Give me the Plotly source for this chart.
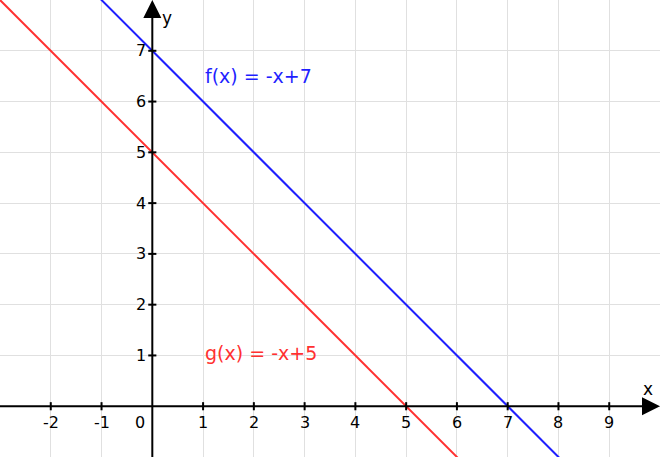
import plotly.graph_objects as go

# Data
x_range = [-3, 10]
y_range = [-1, 8]
x_ticks = [-2, -1, 1, 2, 3, 4, 5, 6, 7, 8, 9]
y_ticks = [1, 2, 3, 4, 5, 6, 7]
f_x = [-3, 10]
f_y = [10, -3]   # f(x) = -x + 7
g_x = [-3, 10]
g_y = [8, -5]    # g(x) = -x + 5
f_label = "f(x) = -x+7"
g_label = "g(x) = -x+5"
f_label_pos = (1.0, 6.5)
g_label_pos = (1.0, 1.05)

BLUE = "#1f1fff"
RED = "#ff3030"
FONT = "DejaVu Sans"

fig = go.Figure()
fig.add_trace(go.Scatter(x=f_x, y=f_y, mode="lines", line=dict(color=BLUE, width=2), hoverinfo="skip"))
fig.add_trace(go.Scatter(x=g_x, y=g_y, mode="lines", line=dict(color=RED, width=2), hoverinfo="skip"))

shapes = []
# tick marks
for t in x_ticks:
    shapes.append(dict(type="line", xref="x", yref="y", x0=t, x1=t, y0=-0.08, y1=0.08,
                       line=dict(color="black", width=2)))
for t in y_ticks:
    shapes.append(dict(type="line", xref="x", yref="y", y0=t, y1=t, x0=-0.08, x1=0.08,
                       line=dict(color="black", width=2)))
# axes
shapes.append(dict(type="line", xref="x", yref="y", x0=x_range[0], x1=x_range[1] - 0.2, y0=0, y1=0,
                   line=dict(color="black", width=2), layer="above"))
shapes.append(dict(type="line", xref="x", yref="y", x0=0, x1=0, y0=y_range[0], y1=y_range[1] - 0.2,
                   line=dict(color="black", width=2), layer="above"))

annotations = []
for t in x_ticks:
    annotations.append(dict(x=t, y=0, xref="x", yref="y", text=str(t), showarrow=False,
                            yshift=-16, font=dict(family=FONT, size=16, color="black")))
annotations.append(dict(x=0, y=0, xref="x", yref="y", text="0", showarrow=False,
                        xshift=-12, yshift=-16, font=dict(family=FONT, size=16, color="black")))
for t in y_ticks:
    annotations.append(dict(x=0, y=t, xref="x", yref="y", text=str(t), showarrow=False,
                            xanchor="right", xshift=-4, font=dict(family=FONT, size=16, color="black")))
# arrowheads
annotations.append(dict(x=x_range[1], y=0, ax=x_range[1] - 0.3, ay=0, xref="x", yref="y",
                        axref="x", ayref="y", text="", showarrow=True, arrowhead=2, arrowsize=1.8,
                        arrowwidth=2, arrowcolor="black"))
annotations.append(dict(x=0, y=y_range[1], ax=0, ay=y_range[1] - 0.3, xref="x", yref="y",
                        axref="x", ayref="y", text="", showarrow=True, arrowhead=2, arrowsize=1.8,
                        arrowwidth=2, arrowcolor="black"))
# axis titles
annotations.append(dict(x=x_range[1], y=0, xref="x", yref="y", text="x", showarrow=False,
                        xanchor="right", xshift=-5, yshift=17, font=dict(family=FONT, size=17, color="black")))
annotations.append(dict(x=0, y=y_range[1], xref="x", yref="y", text="y", showarrow=False,
                        xanchor="left", xshift=8, yshift=-18, font=dict(family=FONT, size=17, color="black")))
# function labels
annotations.append(dict(x=f_label_pos[0], y=f_label_pos[1], xref="x", yref="y", text=f_label,
                        showarrow=False, xanchor="left", font=dict(family=FONT, size=19, color=BLUE)))
annotations.append(dict(x=g_label_pos[0], y=g_label_pos[1], xref="x", yref="y", text=g_label,
                        showarrow=False, xanchor="left", font=dict(family=FONT, size=19, color=RED)))

fig.update_layout(
    width=660, height=457,
    margin=dict(l=0, r=0, t=0, b=0),
    paper_bgcolor="white", plot_bgcolor="white",
    showlegend=False,
    shapes=shapes, annotations=annotations,
    xaxis=dict(range=x_range, dtick=1, tick0=0, showgrid=True, gridcolor="#e0e0e0", gridwidth=1,
               zeroline=False, showticklabels=False, showline=False, fixedrange=True),
    yaxis=dict(range=y_range, dtick=1, tick0=0, showgrid=True, gridcolor="#e0e0e0", gridwidth=1,
               zeroline=False, showticklabels=False, showline=False, fixedrange=True),
)

fig.write_html("out.html", config={"displayModeBar": False},
               post_script="document.body.style.margin='0';document.body.style.overflow='hidden';")
